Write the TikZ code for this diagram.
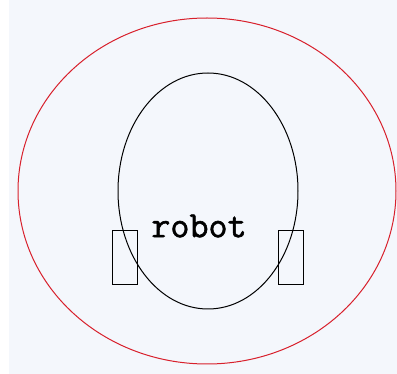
\documentclass[tikz,border=0pt]{standalone}
\usepackage{fontspec}
\newfontfamily\robotfont[FakeBold=1.5]{Latin Modern Mono}
\definecolor{bg}{HTML}{F4F7FC}
\definecolor{ringred}{HTML}{D8202C}
\begin{document}
\begin{tikzpicture}[x=1pt,y=-1pt,
  outline/.style={draw=black,line width=1pt},
  wheel/.style={draw=black,line width=1pt,minimum width=25pt,minimum height=54pt,inner sep=0pt}]
\useasboundingbox (0,0) rectangle (397,374);
\fill[white] (0,0) rectangle (397,374);
\fill[bg] (9,0) rectangle (397,374);
\draw[ringred,line width=1pt] (207,191) ellipse [x radius=189,y radius=173];
\draw[outline] (208,191) ellipse [x radius=90,y radius=118];
\node[wheel] (lw) at (124.5,258) {};
\node[wheel] (rw) at (291,258) {};
\node[inner sep=0pt,font=\robotfont\fontsize{37}{40}\selectfont] (label) at (199,226) {robot};
\end{tikzpicture}
\end{document}
